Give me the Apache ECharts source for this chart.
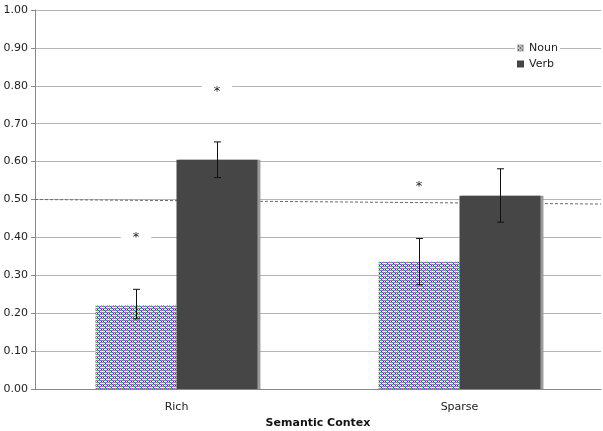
<!DOCTYPE html>
<html>
<head>
<meta charset="utf-8">
<script src="https://cdn.jsdelivr.net/npm/echarts@6/dist/echarts.min.js"></script>
<style>
  html, body { margin: 0; padding: 0; background: #fff; }
  #chart { width: 603px; height: 431px; }
</style>
</head>
<body>
<div id="chart"></div>
<script>
var categories = ["Rich", "Sparse"];
var nounValues = [0.22, 0.336];
var verbValues = [0.605, 0.51];
var nounErrLow = [0.185, 0.275];
var nounErrHigh = [0.263, 0.397];
var verbErrLow = [0.558, 0.44];
var verbErrHigh = [0.652, 0.581];
// significance asterisks (null = none)
var nounStars = [0.40, 0.535];
var verbStars = [0.785, null];
// dashed reference line, start/end of the plot width
var refX = [0, 1];
var refY = [0.50, 0.488];
var yMin = 0, yMax = 1, yStep = 0.1;

var FONT = '"DejaVu Sans", Verdana, sans-serif';
var BAR_FRAC = 0.286; // bar width as a share of the category band

// little multicoloured excel-like fill for the Noun bars
function nounPattern() {
  var rows = [
    ["#c83cc8", "#9c9c9c", "#38b038", "#9c9c9c", "#4a5ae0", "#9c9c9c"],
    ["#ffffff", "#404040", "#ffffff", "#d8d8d8", "#ffffff", "#404040"],
    ["#38b038", "#9c9c9c", "#4a5ae0", "#9c9c9c", "#c83cc8", "#9c9c9c"],
    ["#ffffff", "#d8d8d8", "#ffffff", "#404040", "#ffffff", "#d8d8d8"]
  ];
  var c = document.createElement("canvas");
  c.width = 6;
  c.height = 4;
  var ctx = c.getContext("2d");
  rows.forEach(function (r, y) {
    r.forEach(function (col, x) {
      ctx.fillStyle = col;
      ctx.fillRect(x, y, 1, 1);
    });
  });
  return c;
}

function errData(lo, hi) {
  return lo.map(function (v, i) { return [i, v, hi[i]]; });
}

function errRender(side) {
  return function (params, api) {
    var idx = api.value(0);
    var lo = api.coord([idx, api.value(1)]);
    var hi = api.coord([idx, api.value(2)]);
    var bw = api.size([1, 0])[0] * BAR_FRAC;
    var x = Math.round(lo[0] + side * bw / 2) + 0.5;
    var cap = 3.5;
    var st = { stroke: "#111", lineWidth: 1 };
    return {
      type: "group",
      children: [
        { type: "line", shape: { x1: x, y1: hi[1], x2: x, y2: lo[1] }, style: st },
        { type: "line", shape: { x1: x - cap, y1: hi[1], x2: x + cap, y2: hi[1] }, style: st },
        { type: "line", shape: { x1: x - cap, y1: lo[1], x2: x + cap, y2: lo[1] }, style: st }
      ]
    };
  };
}

var starData = [];
nounStars.forEach(function (v, i) { if (v != null) starData.push([i, v, -1]); });
verbStars.forEach(function (v, i) { if (v != null) starData.push([i, v, 1]); });

var chart = echarts.init(document.getElementById("chart"));
chart.setOption({
  animation: false,
  backgroundColor: "#fff",
  textStyle: { fontFamily: FONT },
  grid: { left: 35, right: 2, top: 10, bottom: 42, outerBoundsMode: "none", containLabel: false },
  legend: {
    data: ["Noun", "Verb"],
    orient: "vertical",
    left: 515,
    top: 41,
    itemWidth: 7,
    itemHeight: 7,
    itemGap: 2,
    icon: "rect",
    backgroundColor: "#fff",
    padding: [0, 2],
    textStyle: { fontSize: 11, lineHeight: 14, color: "#222", fontFamily: FONT }
  },
  xAxis: [
    {
      type: "category",
      data: categories,
      name: "Semantic Contex",
      nameLocation: "middle",
      nameGap: 29,
      nameTextStyle: { fontSize: 11, fontWeight: "bold", color: "#111", fontFamily: FONT },
      axisLine: { lineStyle: { color: "#888" } },
      axisTick: { length: 4, lineStyle: { color: "#888" } },
      axisLabel: { fontSize: 11, color: "#222", margin: 13, fontFamily: FONT }
    },
    { type: "value", min: 0, max: 1, show: false }
  ],
  yAxis: {
    type: "value",
    min: yMin,
    max: yMax,
    interval: yStep,
    axisLine: { show: true, lineStyle: { color: "#888" } },
    axisTick: { show: true, length: 4, lineStyle: { color: "#888" } },
    axisLabel: {
      fontSize: 11, color: "#222", margin: 7, fontFamily: FONT,
      formatter: function (v) { return v.toFixed(2); }
    },
    splitLine: { lineStyle: { color: "#b4b4b4" } }
  },
  series: [
    {
      name: "ref",
      type: "line",
      xAxisIndex: 1,
      data: refX.map(function (x, i) { return [x, refY[i]]; }),
      symbol: "none",
      silent: true,
      lineStyle: { color: "#6a6a6a", width: 1, type: [3, 2] },
      z: 1
    },
    {
      name: "Noun",
      type: "bar",
      data: nounValues,
      barWidth: (BAR_FRAC * 100) + "%",
      barGap: "0%",
      itemStyle: { color: { image: nounPattern(), repeat: "repeat" } },
      z: 2
    },
    {
      name: "Verb",
      type: "bar",
      data: verbValues,
      barWidth: (BAR_FRAC * 100) + "%",
      barGap: "0%",
      itemStyle: {
        color: "#464646",
        shadowColor: "#9a9a9a",
        shadowBlur: 0,
        shadowOffsetX: 3
      },
      z: 2
    },
    {
      type: "custom",
      data: errData(nounErrLow, nounErrHigh),
      renderItem: errRender(-1),
      silent: true,
      z: 5
    },
    {
      type: "custom",
      data: errData(verbErrLow, verbErrHigh),
      renderItem: errRender(1),
      silent: true,
      z: 5
    },
    {
      type: "custom",
      data: starData,
      silent: true,
      z: 6,
      renderItem: function (params, api) {
        var p = api.coord([api.value(0), api.value(1)]);
        var bw = api.size([1, 0])[0] * BAR_FRAC;
        return {
          type: "text",
          x: p[0] + api.value(2) * bw / 2,
          y: p[1],
          style: {
            text: "*",
            fill: "#222",
            font: "13px " + FONT,
            align: "center",
            verticalAlign: "middle",
            backgroundColor: "#fff",
            padding: [3, 12]
          }
        };
      }
    }
  ]
});
</script>
</body>
</html>
